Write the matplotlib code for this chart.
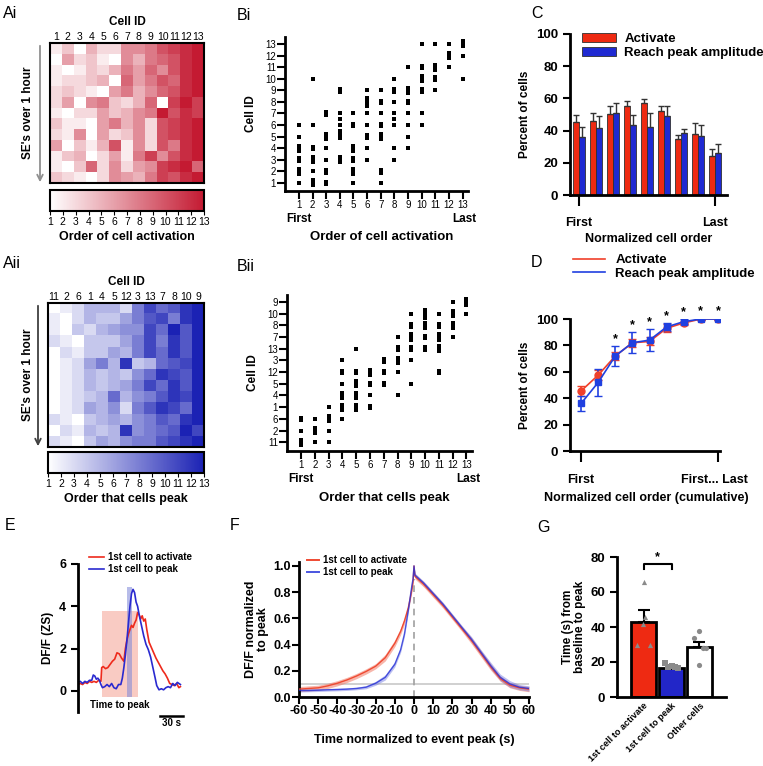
import numpy as np
import matplotlib
matplotlib.use('Agg')
import matplotlib.pyplot as plt
from matplotlib.colors import LinearSegmentedColormap
from matplotlib.patches import Rectangle, Patch
from matplotlib.lines import Line2D

plt.rcParams['font.family'] = ['Liberation Sans', 'DejaVu Sans']
plt.rcParams['axes.unicode_minus'] = False

# ---------------- data ----------------
# Ai: order of activation per SE (rows) for cell IDs 1..13 (columns)
ai_order = [
    [2, 4, 1, 5, 3, 3, 7, 7, 8, 10, 11, 12, 13],
    [1, 6, 3, 4, 2, 1, 7, 5, 8, 9, 10, 12, 13],
    [2, 1, 2, 4, 3, 5, 8, 6, 9, 7, 10, 12, 13],
    [2, 3, 3, 4, 5, 1, 9, 6, 8, 10, 9, 12, 13],
    [3, 4, 3, 2, 1, 6, 8, 5, 7, 9, 10, 12, 13],
    [3, 6, 1, 7, 8, 4, 3, 5, 9, 1, 11, 13, 11],
    [2, 1, 3, 3, 6, 4, 5, 7, 8, 13, 10, 12, 11],
    [4, 2, 2, 1, 6, 8, 5, 7, 3, 10, 11, 12, 13],
    [3, 2, 7, 1, 6, 3, 4, 7, 3, 10, 11, 12, 13],
    [6, 1, 4, 2, 5, 10, 2, 7, 3, 10, 8, 12, 13],
    [2, 4, 5, 1, 3, 6, 2, 8, 11, 7, 10, 12, 13],
    [2, 1, 4, 9, 3, 7, 3, 6, 7, 11, 12, 13, 9],
    [4, 3, 2, 1, 3, 7, 6, 5, 8, 11, 10, 12, 13],
]
ai_ids = ['1', '2', '3', '4', '5', '6', '7', '8', '9', '10', '11', '12', '13']

# Aii: order that cells peak, columns sorted by cell ID below
aii_order = [
    [1, 2, 3, 5, 5, 5, 3, 8, 11, 9, 10, 12, 13],
    [2, 1, 3, 5, 4, 4, 6, 8, 10, 11, 8, 12, 13],
    [2, 1, 4, 3, 5, 6, 7, 7, 11, 9, 13, 10, 13],
    [3, 2, 1, 4, 4, 4, 6, 8, 11, 8, 12, 10, 13],
    [1, 3, 2, 4, 4, 6, 5, 8, 11, 9, 12, 10, 13],
    [1, 2, 3, 6, 8, 5, 12, 4, 5, 9, 10, 11, 13],
    [1, 2, 3, 5, 4, 5, 4, 7, 9, 12, 11, 10, 13],
    [1, 2, 3, 5, 4, 5, 6, 8, 11, 9, 12, 10, 13],
    [1, 2, 3, 4, 5, 9, 5, 7, 8, 10, 12, 11, 13],
    [1, 2, 3, 6, 5, 7, 3, 8, 10, 12, 11, 9, 13],
    [3, 2, 1, 4, 5, 6, 5, 7, 8, 10, 9, 12, 13],
    [1, 3, 2, 5, 4, 5, 12, 7, 8, 9, 10, 13, 11],
    [3, 2, 1, 4, 6, 5, 7, 8, 8, 10, 11, 12, 13],
]
aii_ids = ['11', '2', '6', '1', '4', '5', '12', '3', '13', '7', '8', '10', '9']

# Bi: order of activation (x), cell ID (y), number of SEs at that spot
bi_x = [1, 1, 1, 1, 1, 1,
        2, 2, 2, 2, 2, 2,
        3, 3, 3, 3, 3, 3,
        4, 4, 4, 4, 4, 4, 4,
        5, 5, 5, 5, 5, 5,
        6, 6, 6, 6, 6, 6, 6,
        7, 7, 7, 7, 7, 7, 7,
        8, 8, 8, 8, 8, 8, 8, 8,
        9, 9, 9, 9, 9, 9, 9,
        10, 10, 10, 10, 10, 10,
        11, 11, 11, 11,
        12, 12, 12,
        13, 13, 13]
bi_y = [6, 5, 4, 3, 2, 1,
        10, 6, 4, 3, 2, 1,
        7, 5, 4, 3, 2, 1,
        9, 7, 6.5, 6, 5.5, 5, 3,
        7, 6, 4, 3, 2, 1,
        9, 8, 7, 6, 5, 4, 3,
        9, 8, 7, 6, 5, 2, 1,
        10, 9, 8, 7, 6.5, 6, 4, 3,
        11, 9, 8, 7, 6, 5, 4,
        13, 11, 10, 9, 7, 6,
        13, 11, 10, 9,
        13, 12, 11,
        13, 12, 10]
bi_n = [1, 1, 3, 2, 3, 1,
        1, 1, 2, 3, 1, 3,
        2, 3, 1, 1, 2, 2,
        2, 1, 1, 1, 1, 2, 3,
        1, 2, 3, 2, 3, 1,
        1, 4, 1, 1, 2, 1, 1,
        1, 2, 1, 2, 3, 2, 1,
        1, 2, 1, 1, 1, 1, 1, 1,
        1, 3, 2, 1, 1, 1, 1,
        1, 2, 3, 2, 1, 1,
        1, 3, 2, 1,
        1, 3, 1,
        3, 1, 1]

# Bii: order that cells peak (x), row in cell list aii_ids (y, 1 = bottom)
bii_x = [1, 1, 1,
         2, 2, 2,
         3, 3, 3, 3,
         4, 4, 4, 4, 4, 4,
         5, 5, 5, 5, 5,
         6, 6, 6, 6,
         7, 7, 7,
         8, 8, 8, 8, 8,
         9, 9, 9, 9, 9, 9,
         10, 10, 10, 10,
         11, 11, 11, 11, 11,
         12, 12, 12, 12,
         13, 13]
bii_y = [3, 2, 1,
         3, 2, 1,
         4, 3, 2, 1,
         8, 7, 6, 5, 4, 3,
         9, 7, 6, 5, 4,
         7, 6, 5, 4,
         8, 7, 6,
         10, 9, 8, 7, 5,
         12, 11, 10, 9, 8, 6,
         12, 11, 10, 9,
         12, 11, 10, 9, 7,
         13, 12, 11, 10,
         13, 12]
bii_n = [2, 1, 3,
         1, 3, 1,
         1, 3, 1, 1,
         1, 2, 1, 3, 3, 1,
         1, 2, 3, 3, 3,
         3, 2, 1, 2,
         2, 2, 2,
         1, 2, 3, 1, 1,
         1, 2, 3, 2, 1, 1,
         4, 3, 2, 2,
         1, 2, 3, 3, 2,
         1, 3, 3, 1,
         3, 1]

# C: percent of cells per normalized order bin
c_act = [45.5, 46, 50.5, 55, 57, 52, 34.5, 38, 24.5]
c_act_err = [4, 5, 4.5, 3.5, 2.5, 3.5, 3, 7, 4]
c_peak = [36, 41.5, 51, 43.5, 42.5, 49, 38.5, 36.5, 26]
c_peak_err = [6.5, 7.5, 6, 6, 8.5, 6, 2.5, 7, 5.5]

# D: cumulative percent
d_act = [45.5, 57.5, 72, 82, 83, 93, 97, 100, 100]
d_act_err = [4, 3.5, 3, 3, 3, 3, 1.5, 0.5, 0.5]
d_peak = [36, 52, 72, 82, 84, 94, 98, 100, 100]
d_peak_err = [6, 10, 7.5, 8, 8.5, 3, 2, 1, 1]
d_star = [False, False, True, True, True, True, True, True, True]

# E: example traces (time in s, DF/F z-score)
e_red_t = [0, 3, 6, 9, 12, 15, 18, 21, 24, 27, 30, 31, 33, 36, 39, 42, 45, 48, 51,
           54, 57, 60, 62, 64, 66, 68, 70, 72, 74, 76, 78, 80, 82, 84, 86, 88, 90,
           93, 96, 99, 102, 105, 108, 111, 114, 117, 120, 123, 126, 129, 132, 134]
e_red_y = [0.3, 0.35, 0.3, 0.4, 0.35, 0.45, 0.4, 0.45, 0.4, 0.5, 0.45, 1.1, 1.15, 1.05,
           1.1, 1.25, 1.4, 1.5, 1.8, 1.75, 1.55, 1.4, 2.0, 2.4, 2.7, 2.9, 3.1, 3.0, 3.2,
           3.35, 3.7, 3.6, 3.4, 3.55, 3.3, 3.4, 2.9, 2.3, 2.05, 1.8, 1.55, 1.35, 1.15,
           0.95, 0.8, 0.6, 0.35, 0.3, 0.25, 0.35, 0.15, 0.2]
e_blue_t = [0, 3, 6, 9, 12, 15, 18, 20, 22, 24, 26, 28, 30, 32, 35, 38, 41, 44, 47, 50,
            53, 56, 58, 60, 62, 64, 66, 68, 70, 72, 74, 76, 78, 80, 83, 86, 89, 92, 95,
            98, 101, 103, 106, 109, 112, 115, 118, 121, 124, 127, 130, 134]
e_blue_y = [0.4, 0.45, 0.35, 0.45, 0.4, 0.5, 0.5, 0.75, 0.7, 0.55, 0.6, 0.5, 0.3, 0.15,
            0.2, 0.3, 0.2, 0.35, 0.15, 0.1, 0.3, 0.3, 0.6, 1.1, 1.7, 2.4, 3.2, 4.0, 4.6,
            4.8, 4.65, 4.2, 4.0, 3.6, 3.1, 2.6, 2.2, 1.95, 1.6, 1.1, 0.6, 0.25, 0.05, 0.1,
            0.05, 0.15, 0.2, 0.15, 0.35, 0.25, 0.4, 0.3]
e_act_window = (31, 79, 3.8)     # start, end, height of "time to peak" box
e_peak_window = (64, 70.5, 4.9)

# F: average traces aligned to event peak
f_t = [-60, -55, -50, -45, -40, -35, -30, -25, -20, -15, -10, -7, -5, -3, -2, -1, -0.5,
       0, 0.5, 2, 5, 10, 15, 20, 25, 30, 35, 40, 45, 50, 55, 60]
f_red = [0.06, 0.065, 0.07, 0.085, 0.105, 0.13, 0.16, 0.195, 0.235, 0.3, 0.41, 0.5,
         0.58, 0.68, 0.75, 0.83, 0.88, 1.0, 0.92, 0.9, 0.86, 0.78, 0.7, 0.61, 0.52,
         0.43, 0.33, 0.23, 0.14, 0.09, 0.07, 0.06]
f_red_sem = [0.02, 0.02, 0.02, 0.02, 0.02, 0.02, 0.02, 0.02, 0.02, 0.025, 0.025, 0.025,
             0.025, 0.02, 0.02, 0.02, 0.02, 0.0, 0.02, 0.02, 0.02, 0.02, 0.02, 0.02, 0.02,
             0.025, 0.025, 0.025, 0.02, 0.02, 0.02, 0.02]
f_blue = [0.05, 0.05, 0.052, 0.055, 0.057, 0.06, 0.065, 0.075, 0.105, 0.15, 0.25, 0.36,
          0.48, 0.66, 0.76, 0.86, 0.9, 1.0, 0.93, 0.91, 0.87, 0.79, 0.71, 0.62, 0.53,
          0.44, 0.34, 0.24, 0.15, 0.1, 0.075, 0.065]
f_blue_sem = [0.012, 0.01, 0.01, 0.01, 0.01, 0.01, 0.01, 0.012, 0.015, 0.02, 0.02, 0.02,
              0.02, 0.02, 0.02, 0.015, 0.015, 0.0, 0.015, 0.015, 0.015, 0.015, 0.015,
              0.015, 0.015, 0.02, 0.02, 0.025, 0.025, 0.025, 0.02, 0.02]
f_baseline = 0.1

# G: time from baseline to peak
g_groups = ['1st cell to activate', '1st cell to peak', 'Other cells']
g_mean = [43, 16.5, 28.5]
g_sem = [6.5, 1.0, 3.0]
g_pts_act = [66, 46, 42, 29.5, 29.5]
g_pts_peak = [19.5, 18, 16.5, 17, 17]
g_pts_other = [38, 33.5, 28, 28, 18.5]

# ---------------- style ----------------
W, H = 763, 766
fig = plt.figure(figsize=(W / 100, H / 100), dpi=100)

RED = '#ee2a12'
BLUE = '#1f2ad2'
reds = LinearSegmentedColormap.from_list('wr', ['#ffffff', '#c41a32'])
blues = LinearSegmentedColormap.from_list('wb', ['#ffffff', '#1b22b4'])


def px_axes(l, t, r, b):
    return fig.add_axes([l / W, 1 - b / H, (r - l) / W, (b - t) / H])


def fig_text(x, y, s, **kw):
    fig.text(x / W, 1 - y / H, s, **kw)


def style_axes(ax, lw=2.0):
    ax.spines['top'].set_visible(False)
    ax.spines['right'].set_visible(False)
    ax.spines['left'].set_linewidth(lw)
    ax.spines['bottom'].set_linewidth(lw)
    ax.tick_params(width=1.5, length=5)


def heatmap_panel(mat, ids, cmap, box, cbar_box, label, arrow_col):
    ax = px_axes(*box)
    ax.imshow(np.array(mat), cmap=cmap, vmin=1, vmax=13, aspect='auto',
              interpolation='nearest')
    ax.xaxis.tick_top()
    ax.set_xticks(range(13))
    ax.set_xticklabels(ids, fontsize=7.5)
    ax.tick_params(length=0, pad=1)
    ax.set_yticks([])
    ax.set_xlabel('Cell ID', fontsize=8.5, fontweight='bold', labelpad=5)
    ax.xaxis.set_label_position('top')
    for s in ax.spines.values():
        s.set_linewidth(1.5)
    cax = px_axes(*cbar_box)
    sm = plt.cm.ScalarMappable(cmap=cmap, norm=plt.Normalize(1, 13))
    cb = fig.colorbar(sm, cax=cax, orientation='horizontal', ticks=range(1, 14))
    cb.outline.set_linewidth(1.5)
    cb.ax.tick_params(labelsize=7.5, length=3, width=0.8, pad=1)
    cb.set_label(label, fontsize=9, fontweight='bold', labelpad=3)
    l, t, r, b = box
    ax.annotate('', xy=(l - 10, H - b - 2), xytext=(l - 10, H - t),
                xycoords='figure pixels', textcoords='figure pixels',
                arrowprops=dict(arrowstyle='->', color=arrow_col, lw=1.3))
    fig_text(28, (t + b) / 2, "SE's over 1 hour", rotation=90, ha='center',
             va='center', fontsize=8.5, fontweight='bold')


def order_scatter(box, xs, ys, ns, ylim, yticklabels, xlabel, label_y):
    ax = px_axes(*box)
    for x, y, n in zip(xs, ys, ns):
        offs = (np.arange(n) - (n - 1) / 2) * 0.22
        ax.plot(np.full(n, x), y + offs, 's', ms=2.2, color='black', mew=0)
    style_axes(ax)
    ax.set_xlim(-0.02, 13.4)
    ax.set_ylim(*ylim)
    ax.set_xticks(range(1, 14))
    ax.set_yticks(range(1, 14))
    ax.set_yticklabels(yticklabels)
    ax.tick_params(labelsize=7, length=5.5, width=1.5, pad=1)
    ax.set_ylabel('Cell ID', fontsize=8.5, fontweight='bold', labelpad=6)
    l, t, r, b = box
    fig_text(l + 14, b + 28, 'First', ha='center', va='center', fontsize=8.5,
             fontweight='bold')
    fig_text(r - 4, b + 28, 'Last', ha='center', va='center', fontsize=8.5,
             fontweight='bold')
    fig_text((l + r) / 2 + 5, label_y, xlabel, ha='center', va='center',
             fontsize=9.5, fontweight='bold')
    return ax


# ---------------- panel labels ----------------
for x, y, s in [(3, 14, 'Ai'), (237, 16, 'Bi'), (531, 14, 'C'), (3, 264, 'Aii'),
                (237, 266, 'Bii'), (531, 262, 'D'), (5, 525, 'E'), (230, 525, 'F'),
                (537, 528, 'G')]:
    fig_text(x, y, s, fontsize=11.5, ha='left', va='center')

# ---------------- A panels ----------------
heatmap_panel(ai_order, ai_ids, reds, (50, 43, 204, 183), (50, 190, 204, 211),
              'Order of cell activation', '#909090')
heatmap_panel(aii_order, aii_ids, blues, (48, 303, 204, 447), (48, 452, 204, 473),
              'Order that cells peak', '#404040')

# ---------------- B panels ----------------
order_scatter((285, 37, 468, 191), bi_x, bi_y, bi_n, (0.3, 13.6),
              [str(i) for i in range(1, 14)], 'Order of cell activation', 237)
order_scatter((287, 295, 472, 451), bii_x, bii_y, bii_n, (0.25, 13.6),
              aii_ids, 'Order that cells peak', 498)

# ---------------- C ----------------
ax = px_axes(570, 34, 727, 195)
xc = np.arange(9)
bw = 0.35
ax.bar(xc - bw / 2, c_act, bw, color=RED, edgecolor='#303030', lw=0.6)
ax.bar(xc + bw / 2, c_peak, bw, color=BLUE, edgecolor='#303030', lw=0.6)
ax.errorbar(xc - bw / 2, c_act, yerr=[np.zeros(9), c_act_err], fmt='none',
            ecolor='#333333', elinewidth=1, capsize=2, capthick=1)
ax.errorbar(xc + bw / 2, c_peak, yerr=[np.zeros(9), c_peak_err], fmt='none',
            ecolor='#333333', elinewidth=1, capsize=2, capthick=1)
style_axes(ax)
ax.set_xlim(-0.53, 8.7)
ax.set_ylim(0, 100)
ax.set_yticks(range(0, 101, 20))
ax.set_xticks([0, 8])
ax.set_xticklabels(['First', 'Last'], fontweight='bold', fontsize=9)
ax.tick_params(axis='x', length=8, pad=8)
for lab in ax.get_yticklabels():
    lab.set_fontweight('bold')
ax.tick_params(axis='y', labelsize=9.5)
ax.set_ylabel('Percent of cells', fontsize=8.5, fontweight='bold')
ax.set_xlabel('Normalized cell order', fontsize=9, fontweight='bold', labelpad=3)
ax.legend(handles=[Patch(facecolor=RED, edgecolor='#303030', lw=0.6, label='Activate'),
                   Patch(facecolor=BLUE, edgecolor='#303030', lw=0.6,
                         label='Reach peak amplitude')],
          loc='upper left', bbox_to_anchor=(582 / W, 1 - 33 / H),
          bbox_transform=fig.transFigure, frameon=False, borderaxespad=0,
          borderpad=0, handlelength=2.6, handleheight=0.6, handletextpad=0.6,
          labelspacing=0.15, prop={'weight': 'bold', 'size': 9.5})

# ---------------- D ----------------
ax = px_axes(570, 319, 720, 451)
xd = np.arange(9)
ax.errorbar(xd, d_act, yerr=d_act_err, color='#f0402a', marker='o', ms=5,
            capsize=3, lw=1.2, elinewidth=1.2)
ax.errorbar(xd, d_peak, yerr=d_peak_err, color='#2040e0', marker='s', ms=5,
            capsize=3, lw=1.2, elinewidth=1.2)
for i, s in enumerate(d_star):
    if s:
        top = max(d_act[i] + d_act_err[i], d_peak[i] + d_peak_err[i])
        ax.text(i, top + 0.5, '*', ha='center', va='bottom', fontsize=9,
                fontweight='bold', clip_on=False)
style_axes(ax)
ax.set_xlim(-0.65, 8.12)
ax.set_ylim(0, 100)
ax.set_yticks(range(0, 101, 20))
ax.set_xticks([0, 8])
ax.set_xticklabels(['', ''])
ax.tick_params(axis='x', length=8)
for lab in ax.get_yticklabels():
    lab.set_fontweight('bold')
ax.tick_params(axis='y', labelsize=9.5)
ax.set_ylabel('Percent of cells', fontsize=8.5, fontweight='bold')
fig_text(581, 480, 'First', ha='center', va='center', fontsize=9, fontweight='bold')
fig_text(748, 480, 'First... Last', ha='right', va='center', fontsize=9,
         fontweight='bold')
fig_text(646, 498, 'Normalized cell order (cumulative)', ha='center', va='center',
         fontsize=9, fontweight='bold')
ax.legend(handles=[Line2D([], [], color='#f0402a', lw=1.2, label='Activate'),
                   Line2D([], [], color='#2040e0', lw=1.2, label='Reach peak amplitude')],
          loc='upper left', bbox_to_anchor=(573 / W, 1 - 254 / H),
          bbox_transform=fig.transFigure, frameon=False, borderaxespad=0,
          borderpad=0, handlelength=2.4, handletextpad=0.8, labelspacing=0.1,
          prop={'weight': 'bold', 'size': 9.5})

# ---------------- E ----------------
ax = px_axes(78, 564, 185, 712)
s0, s1, sh = e_act_window
ax.add_patch(Rectangle((s0, -0.3), s1 - s0, sh + 0.3, color='#f5a99b', alpha=0.6,
                       lw=0))
p0, p1, ph = e_peak_window
ax.add_patch(Rectangle((p0, -0.3), p1 - p0, ph + 0.3, color='#7c86d8', alpha=0.55,
                       lw=0))
ax.plot(e_red_t, e_red_y, color='#ee2a1c', lw=1.2)
ax.plot(e_blue_t, e_blue_y, color='#2a2ad0', lw=1.2)
ax.set_xlim(0, 140)
ax.set_ylim(-1, 6)
for s in ['top', 'right', 'bottom']:
    ax.spines[s].set_visible(False)
ax.spines['left'].set_linewidth(2)
ax.set_xticks([])
ax.set_yticks([0, 2, 4, 6])
ax.tick_params(axis='y', width=1.5, length=5, labelsize=9)
for lab in ax.get_yticklabels():
    lab.set_fontweight('bold')
ax.set_ylabel('DF/F (ZS)', fontsize=8.5, fontweight='bold', labelpad=4)
ax.text(55, -0.66, 'Time to peak', ha='center', va='center', fontsize=7,
        fontweight='bold')
ax.plot([107, 137], [-1.2, -1.2], color='black', lw=1.8, clip_on=False)
ax.text(122, -1.5, '30 s', ha='center', va='center', fontsize=7, fontweight='bold')
ax.legend(handles=[Line2D([], [], color='#ee2a1c', lw=1.2, label='1st cell to activate'),
                   Line2D([], [], color='#2a2ad0', lw=1.2, label='1st cell to peak')],
          loc='upper left', bbox_to_anchor=(89 / W, 1 - 552 / H),
          bbox_transform=fig.transFigure, frameon=False, borderaxespad=0,
          borderpad=0, handlelength=1.5, handletextpad=0.5, labelspacing=0.25,
          prop={'weight': 'bold', 'size': 7})

# ---------------- F ----------------
ax = px_axes(299, 562, 529, 697)
ax.axhline(f_baseline, color='#c8c8c8', lw=1.2, zorder=1)
ax.plot([0, 0], [0, 0.9], color='#a0a0a0', lw=1.2, ls=(0, (4, 3)), zorder=1)
fr = np.array(f_red)
frs = np.array(f_red_sem)
fb = np.array(f_blue)
fbs = np.array(f_blue_sem)
ax.fill_between(f_t, fr - frs, fr + frs, color='#f27a66', alpha=0.55, lw=0, zorder=2)
ax.plot(f_t, f_red, color='#ef4a32', lw=1.0, zorder=3)
ax.fill_between(f_t, fb - fbs, fb + fbs, color='#6a72e0', alpha=0.45, lw=0, zorder=2)
ax.plot(f_t, f_blue, color='#2530d8', lw=1.0, zorder=3, alpha=0.8)
style_axes(ax)
ax.set_xlim(-60, 60)
ax.set_ylim(0, 1.03)
ax.set_xticks(range(-60, 61, 10))
ax.set_yticks(np.arange(0, 1.01, 0.2))
ax.set_yticklabels(['0.0', '0.2', '0.4', '0.6', '0.8', '1.0'])
ax.tick_params(labelsize=9, length=5, width=1.5, pad=1)
for lab in ax.get_xticklabels() + ax.get_yticklabels():
    lab.set_fontweight('bold')
ax.set_ylabel('DF/F normalized\nto peak', fontsize=9, fontweight='bold',
              linespacing=1.0, labelpad=3)
ax.set_xlabel('Time normalized to event peak (s)', fontsize=9, fontweight='bold',
              labelpad=12)
ax.legend(handles=[Line2D([], [], color='#ef4a32', lw=1.4, label='1st cell to activate'),
                   Line2D([], [], color='#4a55e0', lw=1.4, label='1st cell to peak')],
          loc='upper left', bbox_to_anchor=(307 / W, 1 - 555 / H),
          bbox_transform=fig.transFigure, frameon=False, borderaxespad=0,
          borderpad=0, handlelength=1.2, handletextpad=0.4, labelspacing=0.25,
          prop={'weight': 'bold', 'size': 7})

# ---------------- G ----------------
ax = px_axes(617, 557, 726, 697)
xg = np.arange(3)
ax.bar(xg, g_mean, 0.88, color=[RED, '#2226c8', 'white'], edgecolor='black', lw=2,
       zorder=2)
ax.errorbar(xg, g_mean, yerr=[np.zeros(3), g_sem], fmt='none', ecolor='black',
            elinewidth=1.5, capsize=4, capthick=1.5, zorder=3)
jit = [0, 0.05, -0.02, -0.22, 0.22]
jit2 = [-0.25, 0.0, 0.25, -0.12, 0.12]
ax.scatter(np.array(jit) + 0, g_pts_act, marker='^', s=14, color='#8a8a8a', zorder=4,
           lw=0)
ax.scatter(np.array(jit2) + 1, g_pts_peak, marker='s', s=14, color='#8a8a8a', zorder=4,
           lw=0)
ax.scatter(np.array([0, -0.2, 0.12, 0.22, 0.0]) + 2, g_pts_other, marker='o', s=14,
           color='#8a8a8a', zorder=4, lw=0)
ax.plot([0, 0, 1, 1], [73, 76, 76, 73], color='black', lw=1.5)
ax.text(0.5, 76.5, '*', ha='center', va='bottom', fontsize=9, fontweight='bold')
style_axes(ax)
ax.set_xlim(-0.95, 2.95)
ax.set_ylim(0, 80)
ax.set_yticks(range(0, 81, 20))
ax.set_xticks(xg)
ax.set_xticklabels(g_groups, rotation=45, ha='right', rotation_mode='anchor',
                   fontsize=6.6, fontweight='bold')
ax.tick_params(axis='x', length=0, pad=3)
ax.tick_params(axis='y', labelsize=9.5)
for lab in ax.get_yticklabels():
    lab.set_fontweight('bold')
ax.set_ylabel('Time (s) from\nbaseline to peak', fontsize=8.5, fontweight='bold',
              linespacing=1.0, labelpad=3)

fig.savefig('out.png', dpi=100)
